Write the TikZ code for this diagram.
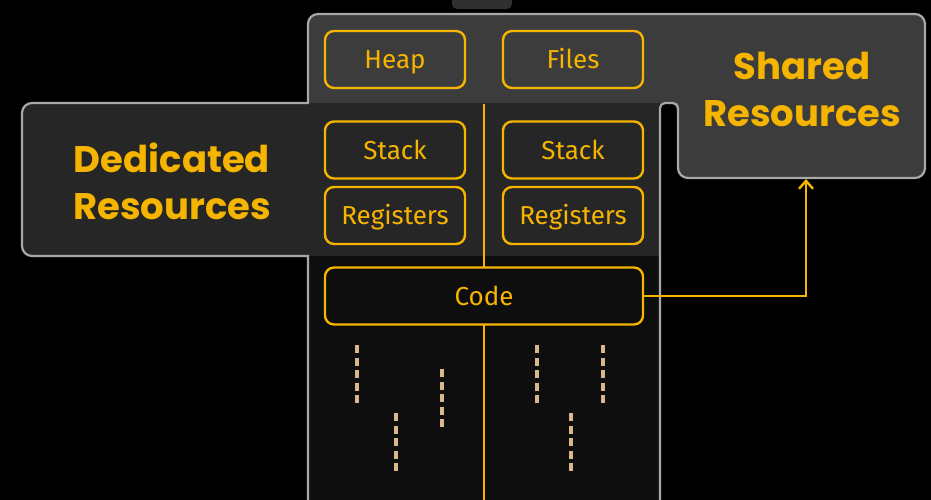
\documentclass[tikz,border=0pt]{standalone}
\usepackage{fontspec}
\setmainfont{Fira Sans}
\newfontfamily\headfont{Poppins}
\usetikzlibrary{arrows.meta}
\definecolor{ylw}{HTML}{F5B400}
\definecolor{sharedfill}{HTML}{3C3C3C}
\definecolor{dedfill}{HTML}{262626}
\definecolor{lowfill}{HTML}{0E0E0E}
\definecolor{outl}{HTML}{A8A8A8}
\definecolor{tan}{HTML}{D9B98C}
\tikzset{
  resbox/.style={draw=ylw, line width=2.4pt, rounded corners=9pt, minimum width=140pt, minimum height=57pt,
    text=ylw, font=\fontsize{26}{30}\selectfont, inner sep=0pt, text height=18pt, text depth=0pt},
  headtxt/.style={text=ylw, align=center, font=\headfont\bfseries\fontsize{37}{47}\selectfont, inner sep=0pt},
  outline/.style={draw=outl, line width=2.2pt},
  conn/.style={draw=ylw, line width=2.8pt},
  thr/.style={draw=tan, line width=4pt, dash pattern=on 8pt off 4.5pt},
}
\begin{document}
\begin{tikzpicture}[x=1pt,y=-1pt]
\useasboundingbox (0,0) rectangle (931,500);
\fill[black] (0,0) rectangle (931,500);
% top tab (player overlay)
\fill[sharedfill!80!black, rounded corners=5pt] (452,-10) rectangle (512,9);
% fills
\fill[sharedfill] (308,103) -- (308,60) [rounded corners=10pt] -- (308,14) -- (925,14) -- (925,178) -- (678,178) -- (678,103) -- (500,103);
\fill[dedfill] (660,103) -- (660,256) -- (200,256) [rounded corners=10pt] -- (22,256) -- (22,103) -- (200,103);
\fill[lowfill] (308,256) rectangle (660,500);
% outline
\draw[outline] (308,500) -- (308,256) -- (200,256) [rounded corners=10pt] -- (22,256) -- (22,103) -- (200,103) [sharp corners] -- (308,103) -- (308,60) [rounded corners=10pt] -- (308,14) -- (925,14) -- (925,178) -- (678,178) -- (678,140) [rounded corners=5pt] -- (678,103) -- (660,103) -- (660,140) [sharp corners] -- (660,500);
% divider
\coordinate (vtop) at (484,104);
\coordinate (vbot) at (484,500);
\draw[conn] (vtop) -- (vbot);
% boxes
\node[resbox, fill=sharedfill] (heap) at (395,59.5) {Heap};
\node[resbox, fill=sharedfill] (files) at (573,59.5) {Files};
\node[resbox, fill=dedfill] (stack1) at (395,150) {Stack};
\node[resbox, fill=dedfill] (stack2) at (573,150) {Stack};
\node[resbox, fill=dedfill] (reg1) at (395,215.5) {Registers};
\node[resbox, fill=dedfill] (reg2) at (573,215.5) {Registers};
\node[resbox, fill=lowfill, minimum width=318pt] (code) at (484,296) {Code};
% headings
\node[headtxt] (ded) at (172,181) {Dedicated\\Resources};
\node[headtxt] (shr) at (802,89) {Shared\\Resources};
% arrow
\coordinate (shrbot) at (806,179);
\draw[conn, -{Straight Barb[length=8pt,width=14pt,line width=2.4pt]}] (code.east) -| (shrbot);
% threads
\draw[thr] (357,345) -- (357,406);
\draw[thr] (396,413) -- (396,474);
\draw[thr] (442,369) -- (442,430);
\draw[thr] (537,345) -- (537,406);
\draw[thr] (603,345) -- (603,406);
\draw[thr] (571,413) -- (571,474);
\end{tikzpicture}
\end{document}
